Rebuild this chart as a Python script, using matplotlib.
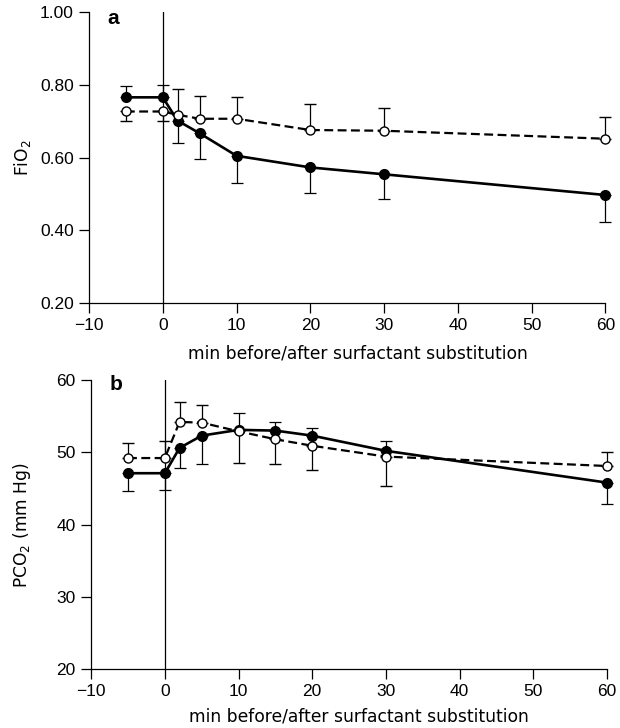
import matplotlib
matplotlib.use("Agg")
import matplotlib.pyplot as plt
import numpy as np

plt.rcParams['font.family'] = ['Liberation Sans', 'DejaVu Sans']
plt.rcParams['font.size'] = 12
plt.rcParams['axes.unicode_minus'] = True

x = [-5, 0, 2, 5, 10, 20, 30, 60]
fio2_filled = [0.766, 0.766, 0.702, 0.667, 0.605, 0.573, 0.554, 0.497]
fio2_filled_up = [0.032, 0.034, 0, 0, 0, 0, 0, 0]
fio2_filled_dn = [0, 0, 0.062, 0.071, 0.074, 0.071, 0.069, 0.074]
fio2_open = [0.727, 0.727, 0.718, 0.707, 0.707, 0.676, 0.674, 0.652]
fio2_open_up = [0, 0, 0.071, 0.063, 0.061, 0.072, 0.062, 0.061]
fio2_open_dn = [0.027, 0.027, 0, 0, 0, 0, 0, 0]

xb = [-5, 0, 2, 5, 10, 15, 20, 30, 60]
pco2_filled = [47.1, 47.1, 50.6, 52.3, 53.1, 53.0, 52.3, 50.2, 45.8]
pco2_filled_up = [0, 0, 0, 0, 2.3, 1.2, 1.0, 1.3, 0]
pco2_filled_dn = [2.5, 2.3, 2.8, 3.9, 0, 0, 0, 0, 2.9]
pco2_open = [49.2, 49.2, 54.2, 54.1, 52.9, 51.8, 50.9, 49.4, 48.1]
pco2_open_up = [2.1, 2.3, 2.8, 2.5, 0, 0, 0, 0, 2.0]
pco2_open_dn = [0, 0, 0, 0, 4.4, 3.4, 3.3, 4.0, 0]

xticks = [-10, 0, 10, 20, 30, 40, 50, 60]
xlabel = "min before/after surfactant substitution"

fig = plt.figure(figsize=(6.2, 7.28), dpi=100)
axa = fig.add_axes([0.1435, 0.584, 0.833, 0.399])
axb = fig.add_axes([0.147, 0.081, 0.832, 0.397])

label_font = dict(family=['DejaVu Sans'], fontsize=12.3)


def panel(ax, xs, f, fu, fd, o, ou, od, ylim, yticks, yfmt, ylabel, letter,
          ylab_x, letter_y, xlab_y):
    ax.axvline(0, color='black', lw=0.9, zorder=1)
    ax.errorbar(xs, f, yerr=[fd, fu], fmt='-o', color='black', lw=1.9,
                ms=7, mfc='black', mec='black', ecolor='black',
                elinewidth=0.9, capsize=4.5, capthick=0.9, zorder=3,
                clip_on=False)
    ax.errorbar(xs, o, yerr=[od, ou], fmt='--o', color='black', lw=1.6,
                dashes=(4, 2), ms=6.5, mfc='white', mec='black', mew=1.0,
                ecolor='black', elinewidth=0.9, capsize=4.5, capthick=0.9,
                zorder=4, clip_on=False)
    ax.set_xlim(-10, 60)
    ax.set_ylim(*ylim)
    ax.set_xticks(xticks)
    ax.set_yticks(yticks)
    ax.set_yticklabels([yfmt.format(v) for v in yticks])
    for s in ['top', 'right']:
        ax.spines[s].set_visible(False)
    for s in ['left', 'bottom']:
        ax.spines[s].set_linewidth(0.9)
    ax.tick_params(direction='out', length=7, width=0.9, labelsize=12.5,
                   pad=4)
    ax.set_xlabel(xlabel, **label_font)
    ax.xaxis.set_label_coords(0.52, xlab_y)
    ax.set_ylabel(ylabel, **label_font)
    ax.yaxis.set_label_coords(ylab_x, 0.5)
    ax.text(0.036, letter_y, letter, transform=ax.transAxes, fontsize=15,
            fontweight='bold', va='top', ha='left')


panel(axa, x, fio2_filled, fio2_filled_up, fio2_filled_dn,
      fio2_open, fio2_open_up, fio2_open_dn,
      (0.2, 1.0), [0.2, 0.4, 0.6, 0.8, 1.0], "{:.2f}", "FiO$_2$", "a",
      -0.108, 1.012, -0.142)
panel(axb, xb, pco2_filled, pco2_filled_up, pco2_filled_dn,
      pco2_open, pco2_open_up, pco2_open_dn,
      (20, 60), [20, 30, 40, 50, 60], "{:.0f}", "PCO$_2$ (mm Hg)", "b",
      -0.112, 1.018, -0.132)

fig.savefig("out.png", dpi=100)
